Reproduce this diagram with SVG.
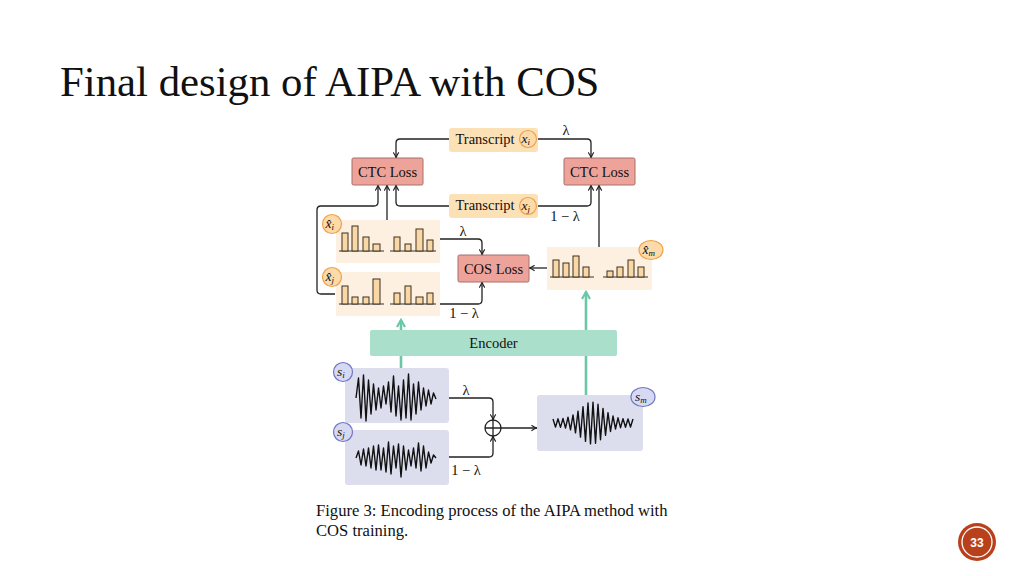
<svg xmlns="http://www.w3.org/2000/svg" width="1024" height="576" viewBox="0 0 1024 576">
<style>
.serif{font-family:"Liberation Serif","Times New Roman",serif;fill:#111}
.lbl{font-size:14.5px;text-anchor:middle}
.math{font-family:"Liberation Serif","Times New Roman",serif;font-style:italic;fill:#111}
.conn{fill:none;stroke:#222;stroke-width:1.3}
.green{fill:none;stroke:#6CC6A8;stroke-width:2.6}
.trans{fill:#FCE0B6}
.ctc{fill:#EDA39A;stroke:#A5706A;stroke-width:1}
.panel{fill:#FDF0E1}
.sig{fill:#DCDEEE}
.bar{fill:#FAD8A6;stroke:#3a3020;stroke-width:1}
.base{stroke:#333;stroke-width:1}
.ocirc{fill:#FCDAAA;stroke:#EFA24A;stroke-width:1.2}
.bcirc{fill:#D7D9F2;stroke:#6E76C4;stroke-width:1.2}
.wave{fill:none;stroke:#111;stroke-width:1.4;stroke-linejoin:round}
</style>
<defs>
<marker id="ah" viewBox="0 0 10 10" refX="9" refY="5" markerWidth="7" markerHeight="7" markerUnits="userSpaceOnUse" orient="auto">
<path d="M1,1 Q5,4 9,5 Q5,6 1,9" fill="none" stroke="#222" stroke-width="1.6"/>
</marker>
<marker id="gh" viewBox="0 0 10 10" refX="8" refY="5" markerWidth="10" markerHeight="10" markerUnits="userSpaceOnUse" orient="auto">
<path d="M1,1 L8,5 L1,9" fill="none" stroke="#6CC6A8" stroke-width="2.2"/>
</marker>
</defs>
<rect width="1024" height="576" fill="#fff"/>
<text id="title" class="serif" x="60" y="96" font-size="42.8">Final design of AIPA with COS</text>

<g id="connectors">
<path class="green" d="M401,368 V320" marker-end="url(#gh)"/>
<path class="green" d="M586,395 V292" marker-end="url(#gh)"/>
<path class="conn" d="M449,139 H400 Q396,139 396,143 V158" marker-end="url(#ah)"/>
<path class="conn" d="M538,139 H587 Q591,139 591,143 V158" marker-end="url(#ah)"/>
<path class="conn" d="M449,206 H400 Q396,206 396,202 V185" marker-end="url(#ah)"/>
<path class="conn" d="M538,206 H587 Q591,206 591,202 V185" marker-end="url(#ah)"/>
<path class="conn" d="M335,294 H321 Q317,294 317,290 V210 Q317,206 321,206 H374 Q378,206 378,202 V185" marker-end="url(#ah)"/>
<path class="conn" d="M387,220 V185" marker-end="url(#ah)"/>
<path class="conn" d="M599,247 V185" marker-end="url(#ah)"/>
<path class="conn" d="M440,239 H478 Q482,239 482,243 V255" marker-end="url(#ah)"/>
<path class="conn" d="M440,304 H478 Q482,304 482,300 V282" marker-end="url(#ah)"/>
<path class="conn" d="M547,268 H529" marker-end="url(#ah)"/>
<path class="conn" d="M449,398 H489 Q493,398 493,402 V420" marker-end="url(#ah)"/>
<path class="conn" d="M449,457 H489 Q493,457 493,453 V436" marker-end="url(#ah)"/>
<path class="conn" d="M501,428 H537" marker-end="url(#ah)"/>
<text class="serif" x="566" y="135" font-size="14.5" text-anchor="middle">λ</text>
<text class="serif" x="565" y="221" font-size="14.5" text-anchor="middle">1 − λ</text>
<text class="serif" x="463" y="236" font-size="14.5" text-anchor="middle">λ</text>
<text class="serif" x="464" y="318" font-size="14.5" text-anchor="middle">1 − λ</text>
<text class="serif" x="466" y="395" font-size="14.5" text-anchor="middle">λ</text>
<text class="serif" x="466" y="475" font-size="14.5" text-anchor="middle">1 − λ</text>
</g>

<g id="transcript-i">
<rect class="trans" x="449" y="128" width="89" height="24" rx="3"/>
<text class="serif lbl" x="485" y="144">Transcript</text>
<circle class="ocirc" cx="528" cy="139" r="8.5"/>
<text class="math" x="521.5" y="142.5" font-size="13.5">x<tspan font-size="9" dy="2">i</tspan></text>
</g>
<g id="transcript-j">
<rect class="trans" x="449" y="194" width="89" height="24" rx="3"/>
<text class="serif lbl" x="485" y="210">Transcript</text>
<circle class="ocirc" cx="528" cy="206" r="8.5"/>
<text class="math" x="521.5" y="209.5" font-size="13.5">x<tspan font-size="9" dy="2">j</tspan></text>
</g>
<g id="ctc-left">
<rect class="ctc" x="352" y="158" width="71" height="27" rx="1.5"/>
<text class="serif lbl" x="387.5" y="176.5">CTC Loss</text>
</g>
<g id="ctc-right">
<rect class="ctc" x="564" y="158" width="71" height="27" rx="1.5"/>
<text class="serif lbl" x="599.5" y="176.5">CTC Loss</text>
</g>
<g id="cos-loss">
<rect class="ctc" x="458" y="255" width="71" height="27" rx="1.5"/>
<text class="serif lbl" x="493.5" y="273.5">COS Loss</text>
</g>

<g id="xhat-i">
<rect class="panel" x="336" y="220" width="104" height="43"/>
<line class="base" x1="339" y1="251" x2="384" y2="251"/>
<line class="base" x1="390" y1="251" x2="436" y2="251"/>
<rect class="bar" x="342" y="233" width="6" height="18"/>
<rect class="bar" x="352" y="226" width="6" height="25"/>
<rect class="bar" x="363" y="237" width="6" height="14"/>
<rect class="bar" x="373" y="244" width="7" height="7"/>
<rect class="bar" x="394" y="237" width="6" height="14"/>
<rect class="bar" x="405" y="244" width="6" height="7"/>
<rect class="bar" x="416" y="229" width="7" height="22"/>
<rect class="bar" x="427" y="240" width="6" height="11"/>
<circle class="ocirc" cx="332" cy="224" r="9.5"/>
<text class="math" x="325.5" y="228" font-size="13.5">x̂<tspan font-size="9" dy="2">i</tspan></text>
</g>
<g id="xhat-j">
<rect class="panel" x="336" y="272" width="104" height="44"/>
<line class="base" x1="339" y1="304" x2="384" y2="304"/>
<line class="base" x1="390" y1="304" x2="436" y2="304"/>
<rect class="bar" x="342" y="286" width="6" height="18"/>
<rect class="bar" x="352" y="297" width="6" height="7"/>
<rect class="bar" x="363" y="297" width="6" height="7"/>
<rect class="bar" x="373" y="279" width="7" height="25"/>
<rect class="bar" x="394" y="293" width="6" height="11"/>
<rect class="bar" x="405" y="286" width="6" height="18"/>
<rect class="bar" x="416" y="297" width="7" height="7"/>
<rect class="bar" x="427" y="293" width="6" height="11"/>
<circle class="ocirc" cx="332" cy="277" r="9.5"/>
<text class="math" x="325.5" y="281" font-size="13.5">x̂<tspan font-size="9" dy="2">j</tspan></text>
</g>
<g id="xhat-m">
<rect class="panel" x="547" y="247" width="105" height="43"/>
<line class="base" x1="550" y1="277" x2="594" y2="277"/>
<line class="base" x1="603" y1="277" x2="648" y2="277"/>
<rect class="bar" x="553" y="260" width="6" height="17"/>
<rect class="bar" x="563" y="263" width="6" height="14"/>
<rect class="bar" x="573" y="256" width="6" height="21"/>
<rect class="bar" x="583" y="267" width="6" height="10"/>
<rect class="bar" x="607" y="271" width="6" height="6"/>
<rect class="bar" x="617" y="267" width="6" height="10"/>
<rect class="bar" x="628" y="260" width="6" height="17"/>
<rect class="bar" x="638" y="267" width="6" height="10"/>
<ellipse class="ocirc" cx="651" cy="250" rx="12" ry="9.5"/>
<text class="math" x="642.5" y="254" font-size="13.5">x̂<tspan font-size="9" dy="2">m</tspan></text>
</g>

<g id="encoder">
<rect x="370" y="330" width="247" height="26" rx="2" fill="#A9DFCB"/>
<text class="serif lbl" x="493.5" y="348">Encoder</text>
</g>

<g id="signal-i">
<rect class="sig" x="345" y="368" width="104" height="55" rx="3"/>
<polyline class="wave" points="356,398 358.5,378 361,418 363.5,375 366,421 368.5,380 371,414 373.5,384 376,410 378.5,388 381,408 383.5,386 386,404 388.5,382 391,412 393.5,376 396,416 398.5,386 401,420 403.5,380 406,418 408.5,374 411,420 413.5,384 416,414 418.5,382 421,410 423.5,388 426,406 428.5,390 431,404 433.5,393 436,399"/>
<circle class="bcirc" cx="343" cy="372" r="9.5"/>
<text class="math" x="337" y="375.5" font-size="13.5">s<tspan font-size="9" dy="2">i</tspan></text>
</g>
<g id="signal-j">
<rect class="sig" x="345" y="430" width="104" height="55" rx="3"/>
<polyline class="wave" points="356,458 358.5,451 361,465 363.5,449 366,466 368.5,448 371,468 373.5,446 376,470 378.5,445 381,470 383.5,448 386,472 388.5,442 391,474 393.5,446 396,468 398.5,444 401,477 403.5,446 406,470 408.5,450 411,466 413.5,448 416,468 418.5,443 421,471 423.5,446 426,468 428.5,452 431,463 433.5,455 436,458"/>
<circle class="bcirc" cx="343" cy="432" r="9.5"/>
<text class="math" x="337" y="435.5" font-size="13.5">s<tspan font-size="9" dy="2">j</tspan></text>
</g>
<g id="plus">
<circle cx="493" cy="428" r="8" fill="#fff" stroke="#222" stroke-width="1.3"/>
<path d="M485,428 H501 M493,420 V436" stroke="#222" stroke-width="1.3"/>
</g>
<g id="signal-m">
<rect class="sig" x="537" y="395" width="106" height="56" rx="3"/>
<polyline class="wave" points="553,419 555.5,427.1 558,418.8 560.5,427.35 563,418.4 565.5,428.1 568,417.2 570.5,429.8 573,414.9 575.5,432.9 578,411.1 580.5,437.1 583,406.6 585.5,441.4 588,403 590.5,443.9 593,402.1 595.5,443.2 598,404.2 600.5,439.8 603,408.4 605.5,435.3 608,412.7 610.5,431.5 613,416 615.5,429 618,417.8 620.5,427.7 623,418.6 625.5,427.2 628,418.9 630.5,427.05 633,419"/>
<ellipse class="bcirc" cx="643" cy="397" rx="12" ry="9.5"/>
<text class="math" x="635" y="400.5" font-size="13.5">s<tspan font-size="9" dy="2">m</tspan></text>
</g>

<g id="caption">
<text class="serif" x="316" y="516" font-size="16.6">Figure 3: Encoding process of the AIPA method with</text>
<text class="serif" x="316" y="536" font-size="16.6">COS training.</text>
</g>

<g id="page-number">
<circle cx="977" cy="542" r="19" fill="#B8411C"/>
<circle cx="977" cy="542" r="15" fill="none" stroke="#fff" stroke-width="1.3"/>
<text x="977" y="546.5" font-family="Liberation Sans Narrow, Liberation Sans, sans-serif" font-weight="bold" font-size="12" fill="#fff" text-anchor="middle">33</text>
</g>
</svg>
